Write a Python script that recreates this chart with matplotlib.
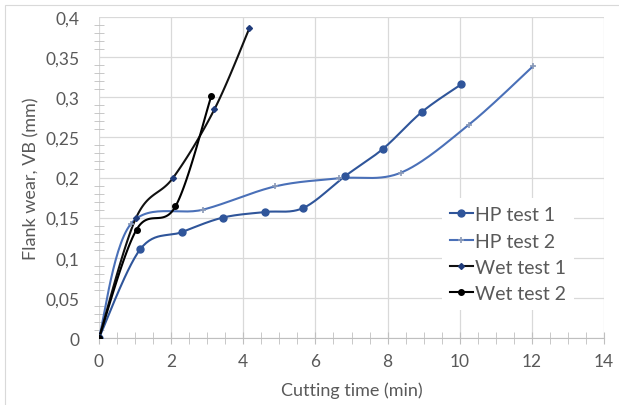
import numpy as np
import matplotlib
matplotlib.use("Agg")
import matplotlib.pyplot as plt
from matplotlib.ticker import MultipleLocator, FuncFormatter
from matplotlib.patches import Rectangle

plt.rcParams['font.family'] = ['Lato', 'DejaVu Sans']

# data
hp1_t = [0, 1.15, 2.3, 3.43, 4.59, 5.66, 6.83, 7.88, 8.96, 10.04]
hp1_vb = [0, 0.111, 0.132, 0.150, 0.157, 0.162, 0.202, 0.236, 0.282, 0.316]
hp2_t = [0, 0.88, 2.89, 4.89, 6.64, 8.37, 10.26, 12.04]
hp2_vb = [0, 0.142, 0.160, 0.189, 0.199, 0.206, 0.266, 0.339]
wet1_t = [0, 1.03, 2.06, 3.20, 4.17]
wet1_vb = [0, 0.150, 0.200, 0.285, 0.386]
wet2_t = [0, 1.04, 2.12, 3.11]
wet2_vb = [0, 0.135, 0.164, 0.301]

x_ticks = [0, 2, 4, 6, 8, 10, 12, 14]
y_ticks = [0, 0.05, 0.1, 0.15, 0.2, 0.25, 0.3, 0.35, 0.4]


def smooth(xs, ys, n=30):
    # Excel-like smoothed line: cubic Bezier with Catmull-Rom control points
    p = np.column_stack([xs, ys]).astype(float)
    out = [p[0]]
    for i in range(len(p) - 1):
        p0 = p[i - 1] if i > 0 else p[i]
        p1, p2 = p[i], p[i + 1]
        p3 = p[i + 2] if i + 2 < len(p) else p[i + 1]
        c1 = p1 + (p2 - p0) / 6
        c2 = p2 - (p3 - p1) / 6
        t = np.linspace(0, 1, n)[1:, None]
        seg = ((1 - t) ** 3) * p1 + 3 * ((1 - t) ** 2) * t * c1 + 3 * (1 - t) * t ** 2 * c2 + t ** 3 * p2
        out.extend(seg)
    out = np.array(out)
    return out[:, 0], out[:, 1]


fig = plt.figure(figsize=(6.19, 4.06), dpi=100)
W, H = 619, 406
ax = fig.add_axes([99 / W, 1 - 339 / H, 505 / W, 321 / H])

# thin chart border
fig.patches.append(Rectangle((5 / W, -0.1), 1.2, 1 - 6 / H + 0.1, transform=fig.transFigure,
                             fill=False, edgecolor='#d9d9d9', linewidth=0.8, zorder=0))

series = [
    (hp1_t, hp1_vb, 'HP test 1', '#2f559a', dict(marker='o', ms=5, mfc='#2f559a', mec='#2f559a')),
    (hp2_t, hp2_vb, 'HP test 2', '#4a70b8', dict(marker='+', ms=5, mfc='#8a9ab8', mec='#8a9ab8', mew=1.2)),
    (wet1_t, wet1_vb, 'Wet test 1', '#111111', dict(marker='D', ms=3, mfc='#1f3b7a', mec='#1f3b7a')),
    (wet2_t, wet2_vb, 'Wet test 2', '#000000', dict(marker='o', ms=4, mfc='#000000', mec='#000000')),
]
handles = []
for xs, ys, lab, col, mk in series:
    sx, sy = smooth(xs, ys)
    ax.plot(sx, sy, color=col, lw=1.5, zorder=3)
    ax.plot(xs, ys, ls='none', zorder=4, **mk)
    h, = ax.plot([], [], color=col, lw=1.5, **mk)
    handles.append((h, lab))

ax.set_xlim(0, 14)
ax.set_ylim(0, 0.4)
ax.set_xticks(x_ticks)
ax.set_yticks(y_ticks)
ax.xaxis.set_minor_locator(MultipleLocator(0.5))
ax.yaxis.set_minor_locator(MultipleLocator(0.01))
ax.yaxis.set_major_formatter(FuncFormatter(lambda v, p: ('%g' % round(v, 2)).replace('.', ',')))
ax.grid(True, which='major', color='#d9d9d9', lw=0.9)
ax.set_axisbelow(True)

for s in ['top', 'right', 'left']:
    ax.spines[s].set_visible(False)
ax.spines['bottom'].set_color('#bfbfbf')
ax.tick_params(axis='both', which='both', direction='inout', color='#bfbfbf', labelcolor='#595959',
               labelsize=12.5)
ax.tick_params(axis='x', which='major', length=8, pad=7)
ax.tick_params(axis='x', which='minor', length=8)
ax.tick_params(axis='y', which='major', length=0, pad=14)
ax.tick_params(axis='y', which='minor', length=7)

ax.set_xlabel('Cutting time (min)', fontsize=13, color='#595959', labelpad=9)
ax.set_ylabel('Flank wear, VB (mm)', fontsize=13, color='#595959', labelpad=4)

leg = ax.legend([h for h, _ in handles], [l for _, l in handles], loc='upper left',
                bbox_to_anchor=(0.66, 0.465), frameon=True, fontsize=14, handlelength=1.2,
                handletextpad=0.1, labelspacing=0.48, borderpad=0.4, labelcolor='#595959')
leg.get_frame().set_edgecolor('none')
leg.get_frame().set_facecolor('white')
leg.get_frame().set_alpha(1)

fig.savefig('out.png', dpi=100)
